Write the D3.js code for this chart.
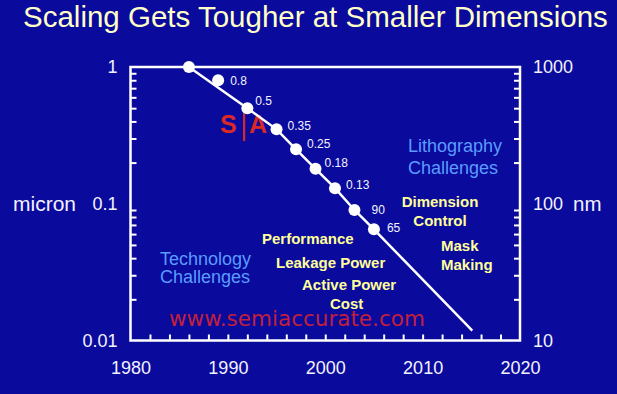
<!DOCTYPE html>
<html>
<head>
<meta charset="utf-8">
<script src="https://cdn.jsdelivr.net/npm/d3@7"></script>
<style>
  body { margin: 0; background: #0a0a9c; }
  svg { display: block; font-family: "Liberation Sans", Arial, sans-serif; }
</style>
</head>
<body>
<svg id="chart" width="617" height="394"></svg>
<script>
// feature size by year of introduction (micron)
var nodeYears = [1986, 1989, 1992, 1995, 1997, 1999, 2001, 2003, 2005];
var nodeSizes = [1, 0.8, 0.5, 0.35, 0.25, 0.18, 0.13, 0.09, 0.065];
var nodeLabels = ['', '0.8', '0.5', '0.35', '0.25', '0.18', '0.13', '90', '65'];
// trend line: nodes on the line plus the extrapolated end
var trendYears = [1986, 1992, 1995, 1997, 1999, 2001, 2003, 2005, 2015.1];
var trendSizes = [1, 0.5, 0.35, 0.25, 0.18, 0.13, 0.09, 0.065, 0.0118];
var yearTicks = [1980, 1990, 2000, 2010, 2020];
var micronTicks = [1, 0.1, 0.01];
var nmTicks = [1000, 100, 10];

var width = 617, height = 394;
var margin = { top: 67, right: 97, bottom: 53.5, left: 130.5 };
var w = width - margin.left - margin.right;
var h = height - margin.top - margin.bottom;

var x = d3.scaleLinear().domain([1980, 2020]).range([0, w]);
var y = d3.scaleLog().domain([0.01, 1]).range([h, 0]);
var yNm = d3.scaleLog().domain([10, 1000]).range([h, 0]);

var svg = d3.select('#chart');
var textColor = '#f2f2ff';

svg.append('text')
  .attr('x', 23)
  .attr('y', 27)
  .attr('fill', '#ffffc8')
  .style('font-size', '29.5px')
  .text('Scaling Gets Tougher at Smaller Dimensions');

var chart = svg.append('g')
  .attr('transform', `translate(${margin.left}, ${margin.top})`);

// minor ticks (inside the frame)
var minorMicron = [];
[0.01, 0.1].forEach(function (d) {
  for (var k = 2; k <= 9; k++) minorMicron.push(d * k);
});
var minorYears = d3.range(1982, 2020, 2);

chart.append('g')
  .attr('class', 'tick-minor')
  .call(d3.axisLeft(y).tickValues(minorMicron).tickSize(-6).tickFormat(''));
chart.append('g')
  .attr('class', 'tick-minor')
  .attr('transform', `translate(${w}, 0)`)
  .call(d3.axisRight(yNm).tickValues(minorMicron.map(d => d * 1000)).tickSize(-6).tickFormat(''));
chart.append('g')
  .attr('class', 'tick-minor')
  .attr('transform', `translate(0, ${h})`)
  .call(d3.axisBottom(x).tickValues(minorYears).tickSize(-6).tickFormat(''));

chart.selectAll('.tick-minor .domain').remove();
chart.selectAll('.tick-minor line')
  .attr('stroke', '#ffffff')
  .attr('stroke-width', 2);

// tick labels
var yAxis = chart.append('g')
  .call(d3.axisLeft(y).tickValues(micronTicks).tickSize(0).tickPadding(13).tickFormat(d => String(d)));
var yAxisR = chart.append('g')
  .attr('transform', `translate(${w}, 0)`)
  .call(d3.axisRight(yNm).tickValues(nmTicks).tickSize(0).tickPadding(13).tickFormat(d => String(d)));
var xAxis = chart.append('g')
  .attr('transform', `translate(0, ${h})`)
  .call(d3.axisBottom(x).tickValues(yearTicks).tickSize(0).tickPadding(21).tickFormat(d => String(d)));

[yAxis, yAxisR, xAxis].forEach(function (g) {
  g.select('.domain').remove();
  g.selectAll('text')
    .attr('fill', textColor)
    .style('font-size', '18px')
    .style('font-family', '"Liberation Sans", Arial, sans-serif');
});

// frame
chart.append('rect')
  .attr('width', w)
  .attr('height', h)
  .attr('fill', 'none')
  .attr('stroke', '#ffffff')
  .attr('stroke-width', 2.5);

// axis titles
svg.append('text')
  .attr('x', 13)
  .attr('y', margin.top + y(0.1) + 7)
  .attr('fill', textColor)
  .style('font-size', '21px')
  .text('micron');
svg.append('text')
  .attr('x', 573)
  .attr('y', margin.top + yNm(100) + 7)
  .attr('fill', textColor)
  .style('font-size', '20.5px')
  .text('nm');

// watermark
chart.append('text')
  .attr('x', 169 - margin.left)
  .attr('y', 326 - margin.top)
  .attr('fill', '#c0203c')
  .style('font-family', '"DejaVu Sans", Verdana, sans-serif')
  .style('font-size', '21.5px')
  .text('www.semiaccurate.com');

var logo = chart.append('g')
  .attr('transform', `translate(${220 - margin.left}, ${133 - margin.top})`);
logo.append('text')
  .attr('x', 0)
  .attr('fill', '#d82828')
  .style('font-size', '25px')
  .style('font-weight', 'bold')
  .text('S');
logo.append('rect')
  .attr('x', 23)
  .attr('y', -20)
  .attr('width', 2.2)
  .attr('height', 28)
  .attr('fill', '#d82828');
logo.append('text')
  .attr('x', 29)
  .attr('fill', '#d82828')
  .style('font-size', '25px')
  .style('font-weight', 'bold')
  .text('A');

// trend line
var trend = trendYears.map((d, i) => ({ year: d, size: trendSizes[i] }));
chart.append('path')
  .datum(trend)
  .attr('fill', 'none')
  .attr('stroke', '#ffffff')
  .attr('stroke-width', 2.5)
  .attr('d', d3.line().x(d => x(d.year)).y(d => y(d.size)));

var nodes = nodeYears.map((d, i) => ({ year: d, size: nodeSizes[i], label: nodeLabels[i] }));
chart.selectAll('.node')
  .data(nodes)
  .enter().append('circle')
  .attr('class', 'node')
  .attr('cx', d => x(d.year))
  .attr('cy', d => y(d.size))
  .attr('r', 6)
  .attr('fill', '#ffffff');

// label offsets from each node
var labelDx = [0, 12, 8, 11, 11, 9, 11, 17, 13];
var labelDy = [0, 0, -7, -4, -6, -6, -3, 0, -2];
chart.selectAll('.node-label')
  .data(nodes)
  .enter().append('text')
  .attr('class', 'node-label')
  .attr('x', (d, i) => x(d.year) + labelDx[i])
  .attr('y', (d, i) => y(d.size) + labelDy[i] + 4.3)
  .attr('fill', textColor)
  .style('font-size', '12px')
  .text(d => d.label);

// annotations
function note(lines, px, py, color, size, bold, lineGap, anchor) {
  var t = svg.append('text')
    .attr('fill', color)
    .attr('text-anchor', anchor || 'start')
    .style('font-size', size + 'px')
    .style('font-weight', bold ? 'bold' : 'normal');
  lines.forEach(function (s, i) {
    t.append('tspan').attr('x', px).attr('y', py + i * lineGap).text(s);
  });
}

var blue = '#5a9cff', yellow = '#ffff99';
note(['Lithography', 'Challenges'], 408, 152, blue, 18, false, 22);
note(['Technology', 'Challenges'], 160, 265, blue, 18, false, 17.5);
note(['Dimension', 'Control'], 440, 207, yellow, 15, true, 19, 'middle');
note(['Mask', 'Making'], 441, 251, yellow, 15, true, 18.5);
note(['Performance'], 262, 244, yellow, 15, true, 0);
note(['Leakage Power'], 276, 268, yellow, 15, true, 0);
note(['Active Power'], 302, 290, yellow, 15, true, 0);
note(['Cost'], 330, 309, yellow, 15, true, 0);
</script>
</body>
</html>
